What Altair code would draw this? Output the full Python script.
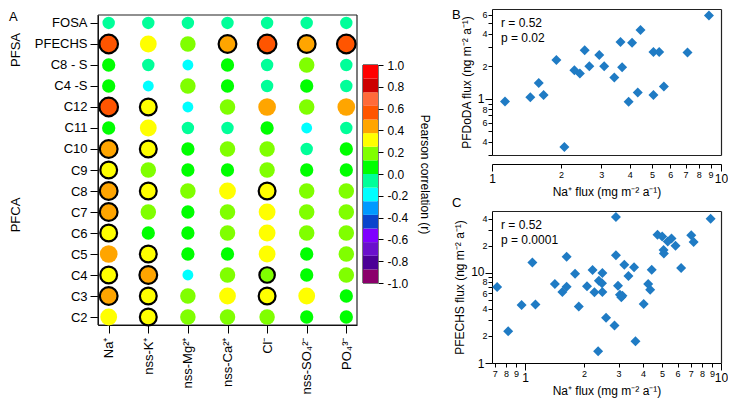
import json
import altair as alt
import pandas as pd

FONT = "Liberation Sans"
W, H = 720, 396  # view size; view origin sits at page (8, 8)

# ---------------- Panel A data ----------------
COLUMNS = ["Na⁺", "nss-K⁺", "nss-Mg²⁺", "nss-Ca²⁺", "Cl⁻", "nss-SO₄²⁻", "PO₄³⁻"]
ROWS = ["FOSA", "PFECHS", "C8 - S", "C4 -S", "C12", "C11", "C10", "C9",
        "C8", "C7", "C6", "C5", "C4", "C3", "C2"]

R_FOSA = [-0.05, -0.05, -0.05, -0.05, -0.05, -0.05, -0.05]
R_PFECHS = [0.55, 0.30, 0.20, 0.45, 0.55, 0.45, 0.55]
R_C8S = [0.05, -0.05, -0.20, 0.05, -0.05, 0.20, -0.05]
R_C4S = [0.05, -0.20, 0.20, 0.05, -0.05, 0.05, -0.05]
R_C12 = [0.55, 0.30, -0.20, 0.20, 0.45, 0.20, 0.45]
R_C11 = [0.05, 0.30, -0.05, -0.05, 0.05, -0.20, -0.05]
R_C10 = [0.45, 0.30, 0.05, 0.20, 0.20, -0.05, 0.05]
R_C9 = [0.30, 0.20, 0.05, 0.05, 0.20, 0.05, 0.05]
R_C8 = [0.45, 0.30, 0.20, 0.30, 0.30, 0.20, 0.20]
R_C7 = [0.45, 0.20, 0.05, 0.20, 0.30, 0.20, 0.20]
R_C6 = [0.30, 0.05, 0.05, 0.20, 0.30, 0.20, 0.20]
R_C5 = [0.45, 0.30, 0.05, 0.05, 0.30, 0.05, 0.20]
R_C4 = [0.30, 0.45, -0.20, 0.20, 0.20, 0.05, 0.20]
R_C3 = [0.45, 0.30, 0.20, 0.30, 0.30, 0.30, 0.05]
R_C2 = [0.30, 0.30, 0.20, 0.20, 0.20, 0.05, 0.05]

S_FOSA = [0, 0, 0, 0, 0, 0, 0]
S_PFECHS = [1, 0, 0, 1, 1, 1, 1]
S_C8S = [0, 0, 0, 0, 0, 0, 0]
S_C4S = [0, 0, 0, 0, 0, 0, 0]
S_C12 = [1, 1, 0, 0, 0, 0, 0]
S_C11 = [0, 0, 0, 0, 0, 0, 0]
S_C10 = [1, 1, 0, 0, 0, 0, 0]
S_C9 = [1, 0, 0, 0, 0, 0, 0]
S_C8 = [1, 1, 0, 0, 1, 0, 0]
S_C7 = [1, 0, 0, 0, 0, 0, 0]
S_C6 = [1, 0, 0, 0, 0, 0, 0]
S_C5 = [0, 1, 0, 0, 0, 0, 0]
S_C4 = [1, 1, 0, 0, 1, 0, 0]
S_C3 = [1, 1, 0, 0, 1, 0, 0]
S_C2 = [0, 1, 0, 0, 0, 0, 0]

R_ROWS = [R_FOSA, R_PFECHS, R_C8S, R_C4S, R_C12, R_C11, R_C10, R_C9,
          R_C8, R_C7, R_C6, R_C5, R_C4, R_C3, R_C2]
S_ROWS = [S_FOSA, S_PFECHS, S_C8S, S_C4S, S_C12, S_C11, S_C10, S_C9,
          S_C8, S_C7, S_C6, S_C5, S_C4, S_C3, S_C2]

GROUPS = ["PFSA", "PFCA"]

# colour bar bins (-1 .. 1, step 0.125) and colours (low -> high)
BIN_EDGES = [-1.0, -0.875, -0.75, -0.625, -0.5, -0.375, -0.25, -0.125, 0.0,
             0.125, 0.25, 0.375, 0.5, 0.625, 0.75, 0.875, 1.0]
BIN_COLORS = ["#8b006b", "#4b0096", "#6a10cc", "#7f00ff", "#0a44cc", "#0099ff",
              "#00ffff", "#00ff99", "#00ff00", "#80ff00", "#ffff00", "#ffa500",
              "#ff5500", "#ff6a3a", "#cc0000", "#ff0000"]
CB_TICKS = [1.0, 0.8, 0.6, 0.4, 0.2, 0.0, -0.2, -0.4, -0.6, -0.8, -1.0]

# ---------------- Panel B data ----------------
B_X = [1.14, 1.47, 1.60, 1.68, 1.91, 2.07, 2.29, 2.42, 2.54, 2.66, 2.94, 3.09, 3.42,
       3.64, 3.70, 3.95, 4.09, 4.33, 4.45, 5.07, 5.07, 5.37, 5.63, 7.14, 8.86]
B_Y = [0.94, 1.03, 1.40, 1.08, 2.29, 0.356, 1.84, 1.71, 2.81, 2.00, 2.55, 2.00, 1.57,
       3.35, 1.96, 0.934, 3.30, 1.14, 4.34, 2.71, 1.08, 2.71, 1.30, 2.68, 5.93]

# ---------------- Panel C data ----------------
C_X = [0.72, 0.82, 0.96, 1.09, 1.13, 1.42, 1.55, 1.63, 1.63, 1.80, 1.88, 2.07, 2.21,
       2.26, 2.36, 2.38, 2.47, 2.48, 2.48, 2.59, 2.86, 2.91, 2.91, 2.98, 3.05, 3.10,
       3.14, 3.21, 3.37, 3.60, 3.66, 4.03, 4.25, 4.35, 4.43, 4.74, 5.01, 5.09, 5.11,
       5.35, 5.59, 5.86, 6.26, 7.05, 7.25, 8.85]
C_Y = [7.0, 2.26, 4.42, 13.1, 4.46, 7.56, 6.16, 15.2, 7.06, 9.83, 4.24, 7.12, 10.8,
       6.11, 1.35, 8.23, 7.69, 10.0, 6.16, 3.18, 2.61, 42.0, 15.8, 7.24, 5.75, 5.38,
       5.61, 12.4, 9.27, 11.6, 1.74, 4.54, 7.56, 6.54, 10.9, 26.6, 25.5, 18.1, 16.5,
       22.4, 24.2, 20.1, 11.4, 26.3, 22.2, 40.3]

B_X_TICKS = [1, 2, 3, 4, 5, 6, 7, 8, 9, 10]
B_X_LABELS = ["1", "2", "3", "4", "5", "6", "7", "8", "9", "10"]
B_Y_TICKS = [0.3, 0.4, 0.5, 0.6, 0.7, 0.8, 0.9, 1, 2, 3, 4, 5, 6]
B_Y_LABELS = ["", "4", "", "6", "", "8", "", "1", "2", "", "4", "", "6"]
C_X_TICKS = [0.7, 0.8, 0.9, 1, 2, 3, 4, 5, 6, 7, 8, 9, 10]
C_X_LABELS = ["7", "8", "9", "1", "2", "3", "4", "5", "6", "7", "8", "9", "10"]
C_Y_TICKS = [1, 2, 3, 4, 5, 6, 7, 8, 9, 10, 20, 30, 40]
C_Y_LABELS = ["1", "2", "", "4", "", "6", "", "8", "", "10", "2", "", "4"]

BLUE = "#1f7bc4"

# ---------------- layout (pixels in the view) ----------------
HM_X = [90, 349]
HM_Y = [7, 317]
CB_X = [355, 370]
CB_Y = [275, 57]
SC_X = [484, 713]
B_YR = [147, 1]
B_AXIS_Y = 156
C_YR = [355, 203]

AX = dict(domainColor="black", tickColor="black", labelColor="black",
          titleColor="black", labelFont=FONT, titleFont=FONT, grid=False,
          titleFontWeight="normal")


def box_edges(xr, yr):
    x0, x1 = xr
    y0, y1 = min(yr), max(yr)
    return [(x0, x1, y0, y0), (x1, x1, y0, y1), (x0, x1, y1, y1), (x0, x0, y0, y1)]


# heat-map and colour-bar frame edges (decoration), in view pixels
edges = box_edges(HM_X, HM_Y) + box_edges(CB_X, CB_Y)
frames_df = pd.DataFrame(edges, columns=["x0", "x1", "y0", "y1"])
frames = alt.Chart(frames_df).mark_rule(color="#222222", strokeWidth=1.2).encode(
    x=alt.X("x0:Q", scale=None), x2="x1:Q",
    y=alt.Y("y0:Q", scale=None), y2="y1:Q",
)

# ================= Panel A: bubble matrix =================
recs = []
for rname, rvals, svals in zip(ROWS, R_ROWS, S_ROWS):
    for cname, rv, sv in zip(COLUMNS, rvals, svals):
        recs.append({"row": rname, "col": cname, "r": rv, "sw": 2.2 if sv else 0})
heat_df = pd.DataFrame(recs)

fill_scale = alt.Scale(type="threshold", domain=BIN_EDGES[1:-1], range=BIN_COLORS)

circles = alt.Chart(heat_df).mark_circle(opacity=1, stroke="black").encode(
    x=alt.X("col:N", sort=COLUMNS,
            scale=alt.Scale(type="point", padding=0.27, range=HM_X),
            axis=alt.Axis(orient="bottom", offset=HM_Y[1] - H, title=None,
                          labelAngle=-90, labelFontSize=13, tickSize=8,
                          labelPadding=4, **AX)),
    y=alt.Y("row:N", sort=ROWS,
            scale=alt.Scale(type="point", padding=0.38, range=HM_Y),
            axis=alt.Axis(orient="left", offset=-HM_X[0], title=None,
                          labelFontSize=13, tickSize=8, labelPadding=3, **AX)),
    fill=alt.Fill("r:Q", scale=fill_scale, legend=None),
    size=alt.Size("r:Q", scale=alt.Scale(domain=[-0.2, -0.05, 0.05, 0.2, 0.3, 0.45, 0.55],
                                         range=[119, 154, 177, 240, 283, 314, 346]),
                  legend=None),
    strokeWidth=alt.StrokeWidth("sw:Q", scale=None),
)

grp_df = pd.DataFrame({"g": GROUPS, "px": [8, 8], "py": [42, 207]})
groups = alt.Chart(grp_df).mark_text(angle=270, fontSize=13, font=FONT, color="black").encode(
    text="g:N", x=alt.X("px:Q", scale=None), y=alt.Y("py:Q", scale=None))

letters_df = pd.DataFrame({"t": ["A", "B", "C"], "px": [1, 444, 444], "py": [9, 7, 195]})
letters = alt.Chart(letters_df).mark_text(
    fontSize=13, font=FONT, color="black", align="left").encode(
    text="t:N", x=alt.X("px:Q", scale=None), y=alt.Y("py:Q", scale=None))

# ================= colour bar =================
cb_df = pd.DataFrame({"lo": BIN_EDGES[:-1], "hi": BIN_EDGES[1:], "color": BIN_COLORS})
cb_scale = alt.Scale(domain=[-1.0, 1.0], range=CB_Y, nice=False, zero=False)
cb_label = "datum.value < 0 ? '-' + format(-datum.value, '.1f') : format(datum.value, '.1f')"
cbar_rects = alt.Chart(cb_df).mark_rect().encode(
    x=alt.value(CB_X[0]), x2=alt.value(CB_X[1]),
    y=alt.Y("lo:Q", scale=cb_scale,
            axis=alt.Axis(orient="right", offset=CB_X[1] - W, values=CB_TICKS,
                          domain=False, labelExpr=cb_label, labelFontSize=12,
                          tickSize=5, labelOverlap=False, labelFlush=False,
                          labelPadding=4, title="Pearson correlation (r)",
                          titleFontSize=12, titlePadding=10, **AX)),
    y2="hi:Q",
    color=alt.Color("color:N", scale=None),
)


# ================= scatter helpers =================
def label_expr(vals, labels):
    v = json.dumps(vals)
    l = json.dumps(labels)
    return f"indexof({v}, datum.value) >= 0 ? {l}[indexof({v}, datum.value)] : ''"


BIG = "datum.value == 1 || datum.value == 10"
FONT_COND = {"condition": {"test": BIG, "value": 12}, "value": 9}
TICK_COND = {"condition": {"test": BIG, "value": 7}, "value": 4}
YOFF_COND = {"condition": {"test": "datum.value == 10", "value": -2}, "value": 0}

FRAME_AX = dict(labels=False, ticks=False, title=None, grid=False,
                domainColor="#222222", domainWidth=1.2)


def scatter(xs, ys, xdom, ydom, yrange, axis_y, xt, xl, yt, yl, ytitle,
            rtxt, ptxt):
    xs_ = alt.Scale(type="log", domain=xdom, range=SC_X, nice=False)
    ys_ = alt.Scale(type="log", domain=ydom, range=yrange, nice=False)
    df = pd.DataFrame({"x": xs, "y": ys})
    pts = alt.Chart(df).mark_point(shape="diamond", filled=True, size=100,
                                   color=BLUE, opacity=1).encode(
        x=alt.X("x:Q", scale=xs_,
                axis=alt.Axis(orient="bottom", offset=axis_y - H, values=xt,
                              labelExpr=label_expr(xt, xl),
                              labelFontSize=FONT_COND, tickSize=TICK_COND,
                              labelOverlap=False, labelFlush=False,
                              labelPadding=2, title="Na⁺ flux (mg m⁻² a⁻¹)",
                              titleFontSize=12, titlePadding=2, **AX)),
        y=alt.Y("y:Q", scale=ys_,
                axis=alt.Axis(orient="left", offset=-SC_X[0], values=yt,
                              labelExpr=label_expr(yt, yl),
                              labelFontSize=FONT_COND, tickSize=TICK_COND,
                              labelOffset=YOFF_COND,
                              labelOverlap=False, labelFlush=False,
                              labelPadding=1, title=ytitle, titleFontSize=12,
                              titlePadding=4, **AX)),
    )
    top, bottom = min(yrange), max(yrange)
    # frame: top + right edges as bare axes on the same scales
    frame_tr = alt.Chart(df).mark_point(opacity=0).encode(
        x=alt.X("x:Q", scale=xs_, axis=alt.Axis(orient="top", offset=-top, **FRAME_AX)),
        y=alt.Y("y:Q", scale=ys_,
                axis=alt.Axis(orient="right", offset=SC_X[1] - W, **FRAME_AX)),
    )
    layers = [pts, frame_tr]
    if axis_y != bottom:
        frame_b = alt.Chart(df).mark_point(opacity=0).encode(
            x=alt.X("x:Q", scale=xs_,
                    axis=alt.Axis(orient="bottom", offset=bottom - H, **FRAME_AX)),
            y=alt.Y("y:Q", scale=ys_, axis=None),
        )
        layers.append(frame_b)
    txt = alt.Chart(pd.DataFrame({"t": [rtxt, ptxt], "px": [SC_X[0] + 9] * 2,
                                  "py": [top + 14, top + 29]})).mark_text(
        align="left", fontSize=12, font=FONT, color="black").encode(
        text="t:N", x=alt.X("px:Q", scale=None), y=alt.Y("py:Q", scale=None))
    layers.append(txt)
    return layers


panel_b = scatter(B_X, B_Y, [1, 10], [0.3, 6.8], B_YR, B_AXIS_Y, B_X_TICKS, B_X_LABELS,
                  B_Y_TICKS, B_Y_LABELS, "PFDoDA flux (ng m⁻² a⁻¹)",
                  "r = 0.52", "p = 0.02")
panel_c = scatter(C_X, C_Y, [0.678, 10], [1, 49], C_YR, C_YR[0], C_X_TICKS, C_X_LABELS,
                  C_Y_TICKS, C_Y_LABELS, "PFECHS flux (ng m⁻² a⁻¹)",
                  "r = 0.52", "p = 0.0001")

layers = [frames, circles, groups, letters, cbar_rects] + panel_b + panel_c

chart = alt.layer(*layers).resolve_scale(
    x="independent", y="independent"
).resolve_axis(
    x="independent", y="independent"
).properties(
    width=W, height=H, padding=0
).configure(
    font=FONT,
).configure_view(
    stroke="transparent",
)

chart.save("out.html", embed_options={"renderer": "svg", "actions": False})
